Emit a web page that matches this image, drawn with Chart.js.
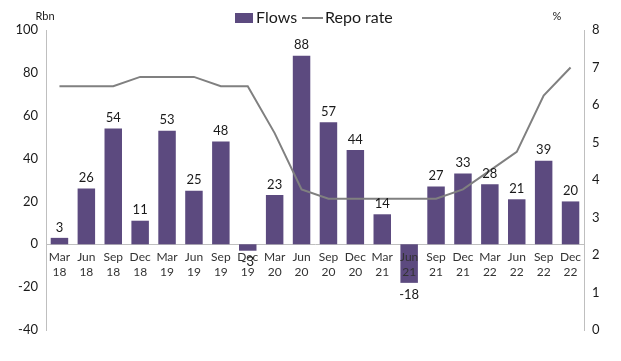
<!DOCTYPE html>
<html><head><meta charset="utf-8">
<script src="https://cdn.jsdelivr.net/npm/chart.js@4"></script>
<style>html,body{margin:0;padding:0;background:#fff}#w{width:621px;height:361px}</style>
</head><body><div id="w"><canvas id="c"></canvas></div>
<script>
const categories = [["Mar","18"],["Jun","18"],["Sep","18"],["Dec","18"],["Mar","19"],["Jun","19"],["Sep","19"],["Dec","19"],["Mar","20"],["Jun","20"],["Sep","20"],["Dec","20"],["Mar","21"],["Jun","21"],["Sep","21"],["Dec","21"],["Mar","22"],["Jun","22"],["Sep","22"],["Dec","22"]];
const flows = [3,26,54,11,53,25,48,-3,23,88,57,44,14,-18,27,33,28,21,39,20];
const repoRate = [6.5,6.5,6.5,6.75,6.75,6.75,6.5,6.5,5.25,3.75,3.5,3.5,3.5,3.5,3.5,3.75,4.25,4.75,6.25,7.0];
const leftTicks = [-40,-20,0,20,40,60,80,100];
const rightTicks = [0,1,2,3,4,5,6,7,8];
const seriesNames = ['Flows', 'Repo rate'];
const unitLeft = 'Rbn', unitRight = '%';

const BAR = '#5c4a7f', LINE = '#808080';
const FONT = "Lato, 'Open Sans', sans-serif";
const labelPlugin = {
  id: 'labels',
  afterDatasetsDraw(chart) {
    const ctx = chart.ctx;
    const meta = chart.getDatasetMeta(1);
    ctx.save();
    ctx.font = "13px " + FONT;
    ctx.fillStyle = '#1a1a1a';
    ctx.textAlign = 'center';
    meta.data.forEach((bar, i) => {
      const v = flows[i];
      if (v >= 0) { ctx.textBaseline = 'bottom'; ctx.fillText(String(v), bar.x, bar.y - 4); }
      else { ctx.textBaseline = 'top'; ctx.fillText(String(v), bar.x, bar.y + 5); }
    });
    ctx.font = "11px " + FONT;
    ctx.textBaseline = 'middle';
    ctx.fillText(unitLeft, 45, 16);
    ctx.fillText(unitRight, 557, 16);
    ctx.font = "16px " + FONT;
    ctx.textAlign = 'left';
    ctx.fillStyle = BAR;
    ctx.fillRect(235, 13, 18, 10);
    ctx.fillStyle = '#1a1a1a';
    ctx.fillText(seriesNames[0], 256, 18);
    ctx.strokeStyle = LINE; ctx.lineWidth = 2;
    ctx.beginPath(); ctx.moveTo(302, 18); ctx.lineTo(323, 18); ctx.stroke();
    ctx.fillText(seriesNames[1], 325, 18);
    ctx.restore();
  }
};

new Chart(document.getElementById('c'), {
  data: {
    labels: categories,
    datasets: [
      { type: 'line', label: seriesNames[1], data: repoRate, yAxisID: 'y2', borderColor: LINE, backgroundColor: LINE, borderWidth: 2, pointRadius: 0, tension: 0, order: 0 },
      { type: 'bar', label: seriesNames[0], data: flows, yAxisID: 'y', backgroundColor: BAR, barPercentage: 0.65, categoryPercentage: 1.0, order: 1 }
    ]
  },
  options: {
    responsive: true, maintainAspectRatio: false, animation: false,
    layout: { padding: { top: 30, bottom: 31, left: 0, right: 0 } },
    plugins: { legend: { display: false }, tooltip: { enabled: false } },
    scales: {
      x: {
        position: { y: 0 },
        grid: { display: false, drawTicks: false },
        border: { color: '#bfbfbf', width: 1 },
        ticks: { z: 1, font: { size: 12, family: FONT }, color: '#333', maxRotation: 0, autoSkip: false, padding: 6 }
      },
      y: {
        position: 'left', min: -40, max: 100,
        afterBuildTicks(s) { s.ticks = leftTicks.map(v => ({ value: v })); },
        afterFit(s) { s.width = 46; },
        grid: { display: false, drawTicks: true, tickLength: 4, tickColor: '#bfbfbf' },
        border: { color: '#bfbfbf' },
        ticks: { font: { size: 13, family: FONT }, color: '#1a1a1a', padding: 4 }
      },
      y2: {
        position: 'right', min: 0, max: 8,
        afterBuildTicks(s) { s.ticks = rightTicks.map(v => ({ value: v })); },
        afterFit(s) { s.width = 37; },
        grid: { display: false, drawTicks: true, tickLength: 4, tickColor: '#bfbfbf' },
        border: { color: '#bfbfbf' },
        ticks: { font: { size: 13, family: FONT }, color: '#1a1a1a', padding: 4 }
      }
    }
  },
  plugins: [labelPlugin]
});
</script></body></html>
